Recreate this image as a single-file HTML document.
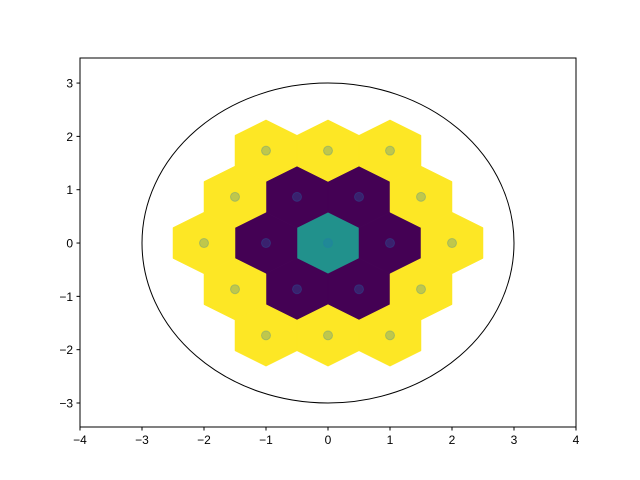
<!DOCTYPE html>
<html><head><meta charset="utf-8"><style>body{margin:0;background:#fff}svg{display:block;font-family:"Liberation Sans","DejaVu Sans",sans-serif}</style></head>
<body>
<svg id="chart" width="640" height="480">
<rect width="640" height="480" fill="#fff"/>
<g id="hexes"></g>
<g id="dots"></g>
<ellipse id="circ" fill="none" stroke="#000" stroke-width="1"/>
<rect x="80" y="58" width="496" height="369" fill="none" stroke="#000" stroke-width="1"/>
<g id="ticks" font-size="12" fill="#000"></g>
</svg>
<script>
const cellX = [0, 1, -1, 0.5, -0.5, 0.5, -0.5, 2, -2, 1.5, -1.5, 1.5, -1.5, 1, -1, 1, -1, 0, 0];
const cellY = [0, 0, 0, 0.866, 0.866, -0.866, -0.866, 0, 0, 0.866, 0.866, -0.866, -0.866, 1.732, 1.732, -1.732, -1.732, 1.732, -1.732];
const cellVal = [2, 1, 1, 1, 1, 1, 1, 3, 3, 3, 3, 3, 3, 3, 3, 3, 3, 3, 3];
const circleRadius = [3];
const xTicks = [-4, -3, -2, -1, 0, 1, 2, 3, 4];
const yTicks = [-3, -2, -1, 0, 1, 2, 3];

const X0=80,X1=576,Y0=427,Y1=58,xmin=-4,xmax=4,ymin=-3.45,ymax=3.47;
const sx=v=>X0+(v-xmin)/(xmax-xmin)*(X1-X0);
const sy=v=>Y0-(v-ymin)/(ymax-ymin)*(Y0-Y1);
const NS="http://www.w3.org/2000/svg";
function color(v){return v<=1?"#440154":v<=2?"#21918c":"#fde725";}
const hg=document.getElementById('hexes'), dg=document.getElementById('dots'), tg=document.getElementById('ticks');
const r=1/Math.sqrt(3);
cellX.forEach((cx,i)=>{
  const cy=cellY[i];
  const pts=[[0,r],[0.5,r/2],[0.5,-r/2],[0,-r],[-0.5,-r/2],[-0.5,r/2]].map(p=>sx(cx+p[0]).toFixed(1)+","+sy(cy+p[1]).toFixed(1)).join(" ");
  const p=document.createElementNS(NS,'polygon');
  p.setAttribute('points',pts);p.setAttribute('fill',color(cellVal[i]));
  p.setAttribute('stroke',color(cellVal[i]));p.setAttribute('stroke-width','0.5');
  
  
  hg.appendChild(p);
  const c=document.createElementNS(NS,'circle');
  c.setAttribute('cx',sx(cx));c.setAttribute('cy',sy(cy));c.setAttribute('r',4.5);
  c.setAttribute('fill','rgba(31,119,180,0.28)');c.setAttribute('stroke','rgba(31,119,180,0.28)');
  
  
  dg.appendChild(c);
});
const e=document.getElementById('circ');
e.setAttribute('cx',sx(0));e.setAttribute('cy',sy(0));
e.setAttribute('rx',sx(circleRadius[0])-sx(0));e.setAttribute('ry',sy(0)-sy(circleRadius[0]));
function mk(tag,attrs,txt){const el=document.createElementNS(NS,tag);for(const k in attrs)el.setAttribute(k,attrs[k]);if(txt!==undefined)el.textContent=txt;tg.appendChild(el);return el;}
xTicks.forEach(t=>{
  const x=sx(t);
  const l=mk('line',{x1:x,x2:x,y1:Y0,y2:Y0+3.5,stroke:'#000'});
  
  
  const tx=mk('text',{x:x,y:Y0+17,'text-anchor':'middle'},t<0?'\u2212'+(-t):String(t));
  
  
});
yTicks.forEach(t=>{
  const y=sy(t);
  const l=mk('line',{x1:X0-3.5,x2:X0,y1:y,y2:y,stroke:'#000'});
  
  
  const tx=mk('text',{x:X0-7,y:y+4.5,'text-anchor':'end'},t<0?'\u2212'+(-t):String(t));
  
  
});
</script>
</body></html>
